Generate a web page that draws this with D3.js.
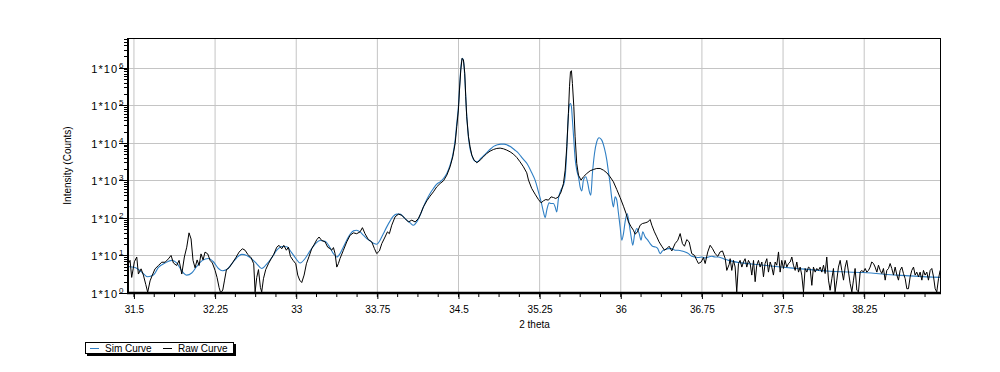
<!DOCTYPE html>
<html>
<head>
<meta charset="utf-8">
<script src="https://cdn.jsdelivr.net/npm/d3@7"></script>
<style>
  body { margin: 0; background: #fff; }
  text { font-family: "Liberation Sans", Arial, sans-serif; fill: #000; }
</style>
</head>
<body>
<script>
// Data (2 theta, counts)
const rawCurve = [
  [31.442,5.5],[31.464,7.4],[31.479,2.6],[31.504,6.8],[31.526,9.1],[31.541,3.2],[31.566,4.4],[31.587,3.0],
  [31.609,1.7],[31.627,1.05],[31.649,2.1],[31.670,3.0],[31.695,4.4],[31.726,5.4],[31.757,6.6],[31.788,6.6],
  [31.818,8.1],[31.843,10],[31.865,6.3],[31.895,5.4],[31.917,7.4],[31.942,3.2],[31.966,9.1],[31.988,16.6],
  [32.009,40],[32.028,27.5],[32.046,7.4],[32.065,4.7],[32.084,7.6],[32.102,5.4],[32.120,11],[32.139,7.6],
  [32.157,12.3],[32.182,11],[32.204,7.4],[32.225,6.3],[32.250,4.0],[32.268,2.6],[32.287,1.4],[32.302,1.0],
  [32.321,1.2],[32.336,2.1],[32.355,4.2],[32.379,4.7],[32.410,6.3],[32.441,8.7],[32.472,12.3],[32.502,15.1],
  [32.527,13.8],[32.552,10.7],[32.583,8.7],[32.607,6.0],[32.620,1.07],[32.635,2.6],[32.651,4.2],[32.669,1.4],
  [32.681,1.07],[32.697,2.4],[32.718,4.2],[32.743,6.0],[32.767,8.1],[32.792,10.7],[32.820,16.6],[32.841,18.6],
  [32.866,15.1],[32.885,18.6],[32.909,13.8],[32.928,16.6],[32.946,9.5],[32.971,7.4],[32.996,6.0],[33.014,3.0],
  [33.032,2.2],[33.051,1.9],[33.073,3.0],[33.094,6.0],[33.119,9.5],[33.143,15.1],[33.168,20],[33.190,26.3],
  [33.211,31],[33.236,25],[33.267,23],[33.291,16.6],
  [33.313,15.2],[33.328,13.8],[33.344,16.2],[33.359,11.2],[33.375,4.9],[33.390,6.1],[33.405,8.3],[33.436,13.8],
  [33.467,23],[33.498,34.6],[33.529,40],[33.559,38],[33.590,42.5],[33.612,55],[33.636,38],[33.667,26.5],
  [33.698,23],[33.723,15.2],[33.744,11.2],[33.769,13.2],[33.791,20.7],[33.821,31],[33.843,42.5],[33.861,38],
  [33.883,64],[33.914,107],[33.945,126],[33.975,118],[34.006,96],[34.037,78],[34.068,87],[34.099,78],
  [34.129,96],[34.151,131],[34.176,197],[34.207,285],[34.237,380],[34.268,495],[34.299,673],[34.330,826],
  [34.361,973],[34.392,1377],[34.422,2296],[34.447,4246],[34.469,9616],[34.484,26800],[34.499,74500],
  [34.509,254700],[34.521,869000],[34.533,1778000],[34.546,1607000],[34.558,708000],[34.567,169000],
  [34.576,49500],[34.592,14500],[34.607,7830],[34.623,4700],[34.644,3460],[34.669,2940],[34.700,3460],
  [34.731,4246],[34.761,5210],[34.792,6010],[34.823,6650],[34.854,7080],[34.885,7230],[34.915,6940],
  [34.946,6400],[34.977,5770],[35.008,5000],[35.039,4070],[35.069,3120],[35.100,2300],[35.131,1590],
  [35.147,1014],[35.177,607],[35.208,429],[35.239,309],[35.264,252],[35.285,285],[35.307,309],[35.331,297],
  [35.356,364],[35.378,349],[35.399,329],[35.424,364],[35.449,495],[35.470,826],[35.486,1871],[35.501,7850],
  [35.516,60700],[35.526,312000],[35.535,785000],[35.544,834000],[35.553,383000],[35.566,91400],
  [35.578,14500],[35.593,2820],[35.609,1377],[35.633,1014],[35.655,1245],[35.686,1525],[35.717,1800],
  [35.747,1950],[35.778,2075],[35.809,2075],[35.840,1871],[35.871,1590],[35.901,1245],[35.932,915],
  [35.963,571],[35.994,349],[36.025,205],[36.049,131],[36.071,78],[36.096,58],[36.117,47],[36.133,36.8],
  [36.154,42.5],[36.179,64],[36.200,70.8],[36.225,73.8],[36.250,78],[36.271,90.6],[36.287,64],[36.311,42.5],
  [36.333,31.3],[36.354,23],[36.379,17.6],[36.404,13.8],[36.425,15.2],[36.447,17.6],[36.472,13.2],
  [36.502,20.7],[36.527,25.4],[36.549,38.3],[36.570,20.7],[36.589,17.6],[36.610,26.5],[36.632,23],
  [36.656,11.2],[36.681,10.1],[36.703,7.4],[36.718,6.1],[36.743,6.7],[36.764,8.8],[36.780,6.1],[36.804,12.4],
  [36.826,18.7],[36.848,15.2],[36.872,11.2],[36.897,9.5],[36.918,12.4],[36.940,13.2],[36.965,8.3],
  [36.980,4.0],[37.002,5.8],
  [37.011,8.2],[37.026,4.0],[37.042,7.4],[37.057,4.9],[37.072,1.07],[37.088,6.1],[37.103,7.4],[37.119,4.9],
  [37.134,6.7],[37.149,8.2],[37.165,4.9],[37.180,7.4],[37.196,6.1],[37.211,3.0],[37.227,7.4],[37.242,2.0],
  [37.257,5.5],[37.273,7.4],[37.288,4.9],[37.304,6.7],[37.319,2.7],[37.334,6.1],[37.350,8.2],[37.365,3.6],
  [37.381,6.7],[37.396,4.9],[37.411,3.0],[37.427,6.7],[37.442,5.5],[37.458,12.4],[37.473,3.6],[37.488,7.4],
  [37.504,4.5],[37.519,7.4],[37.535,4.9],[37.550,6.1],[37.566,6.7],[37.581,9.1],[37.596,5.5],[37.612,4.0],
  [37.627,6.7],[37.643,3.6],[37.658,4.9],[37.673,3.0],[37.689,1.07],[37.704,4.5],[37.720,3.6],[37.735,4.9],
  [37.750,4.5],[37.766,1.6],[37.781,4.9],[37.797,3.6],[37.812,4.5],[37.827,4.0],[37.843,4.9],[37.858,3.6],
  [37.874,5.5],[37.889,3.3],[37.904,9.1],[37.920,2.2],[37.935,1.18],[37.951,2.4],[37.966,4.5],[37.981,1.07],
  [37.997,2.2],[38.012,4.9],[38.028,7.4],[38.043,4.0],[38.059,2.2],[38.074,4.9],[38.089,7.4],[38.105,3.6],
  [38.120,1.8],[38.136,1.07],[38.151,2.2],[38.166,4.5],[38.182,1.18],[38.197,1.07],[38.213,3.6],[38.228,4.0],
  [38.243,3.6],[38.259,4.5],[38.274,3.6],[38.290,4.0],[38.305,4.9],[38.320,6.7],[38.336,6.1],[38.351,4.9],
  [38.367,3.6],[38.382,5.5],[38.398,4.0],[38.413,3.3],[38.428,4.5],[38.444,2.2],[38.459,4.0],[38.475,4.5],
  [38.490,6.1],[38.505,4.5],[38.521,3.0],[38.536,4.9],[38.552,3.0],[38.567,2.2],[38.582,4.0],[38.598,4.9],
  [38.613,3.3],[38.629,2.4],[38.644,1.3],[38.659,1.3],[38.675,2.7],[38.690,4.0],[38.706,4.9],[38.721,3.0],
  [38.736,3.6],[38.752,2.7],[38.767,3.6],[38.783,2.2],[38.798,4.0],[38.813,3.0],[38.829,3.6],[38.844,2.2],
  [38.860,4.0],[38.875,4.5],[38.891,2.7],[38.906,1.3],[38.921,1.07],[38.937,2.4],[38.952,4.0]
];

const simCurve = [
  [31.442,5.1],[31.510,4.8],[31.572,3.6],[31.627,2.7],[31.680,3.0],[31.726,4.8],[31.788,6.3],[31.849,7.4],
  [31.895,6.3],[31.942,3.9],[31.988,3.0],[32.034,3.4],[32.080,5.1],[32.133,7.4],[32.188,8.3],[32.234,6.8],
  [32.281,4.5],[32.318,3.9],[32.358,4.2],[32.404,6.0],[32.450,8.7],[32.496,10.7],[32.543,10],[32.589,8.1],
  [32.635,6.0],[32.681,4.5],[32.727,5.9],[32.774,8.7],[32.820,13.8],[32.866,17.4],[32.912,17],[32.959,11.7],
  [32.996,8.3],[33.036,6.3],[33.082,8.3],[33.128,13.2],[33.174,20],[33.220,25],[33.267,24],
  [33.313,16],[33.344,11.2],[33.375,9.1],[33.405,11.2],[33.436,16.9],[33.467,25.5],[33.498,36.8],
  [33.529,45.2],[33.559,47],[33.590,42.5],[33.621,34.6],[33.652,28.2],[33.683,24.4],[33.720,20.7],
  [33.744,19.9],[33.775,25.5],[33.806,38.3],[33.837,57.7],[33.868,83.4],[33.898,111],[33.929,126],
  [33.960,126],[33.991,107],[34.022,86.9],[34.053,73.8],[34.083,64],[34.114,78.4],[34.145,118],[34.176,197],
  [34.207,309],[34.237,447],[34.268,607],[34.299,793],[34.330,915],[34.361,1122],[34.392,1525],[34.422,2547],
  [34.447,4700],[34.469,11800],[34.484,32900],[34.499,91400],[34.512,383000],[34.524,1180000],
  [34.536,1778000],[34.549,1309000],[34.561,383000],[34.573,74500],[34.586,21800],[34.601,8690],
  [34.623,4700],[34.647,3320],[34.675,3120],[34.706,3830],[34.737,4700],[34.768,5770],[34.798,6940],
  [34.829,8170],[34.860,8870],[34.891,9250],[34.922,9250],[34.952,8690],[34.983,7850],[35.014,6650],
  [35.045,5650],[35.076,4430],[35.106,3460],[35.137,2700],
  [35.177,1590],[35.208,1014],[35.239,495],[35.264,268],[35.285,145],[35.301,102],[35.316,161],[35.338,252],
  [35.356,242],[35.378,242],[35.393,197],[35.408,145],[35.424,329],[35.449,571],[35.470,745],[35.486,1245],
  [35.498,4246],[35.510,26800],[35.522,91400],[35.535,112000],[35.544,91400],[35.553,40400],[35.566,11800],
  [35.578,3830],[35.593,1871],[35.609,1245],[35.624,673],[35.640,526],[35.655,1014],[35.677,1245],
  [35.695,826],[35.710,495],[35.723,404],[35.738,1525],[35.757,5210],[35.778,10670],[35.800,13650],
  [35.824,11800],[35.849,7080],[35.871,3460],[35.886,1690],[35.901,826],[35.917,329],[35.932,197],
  [35.948,364],[35.963,297],[35.979,131],[35.994,57.7],[36.009,25.5],[36.025,38.3],[36.040,78.4],
  [36.059,131],[36.077,70.8],[36.096,31.3],[36.111,18.7],[36.127,34.6],[36.148,52.1],[36.170,38.3],
  [36.188,25.5],[36.203,42.5],[36.225,31.3],[36.250,25.5],[36.271,20.7],[36.293,17.6],[36.318,16.9],
  [36.342,15.2],[36.364,11.2],[36.385,13.2],[36.410,14.4],[36.441,15.2],[36.472,15.2],[36.502,13.8],
  [36.533,13.8],[36.564,13.2],[36.595,12.4],[36.626,11.2],[36.656,9.5],[36.687,9.1],[36.718,8.8],
  [36.749,9.1],[36.780,8.6],[36.810,9.1],[36.841,9.5],[36.872,9.1],[36.903,9.1],[36.934,8.6],[36.965,7.9],
  [36.996,7.4],[37.319,5.5],[37.627,4.5],[37.935,3.8],[38.243,3.5],[38.552,3.0],[38.952,2.6]
];

const xTickValues = [31.5, 32.25, 33, 33.75, 34.5, 35.25, 36, 36.75, 37.5, 38.25];
const yExponents = [0, 1, 2, 3, 4, 5, 6];
const seriesNames = ['Sim Curve', 'Raw Curve'];
const seriesColors = ['#2f7fc4', '#000000'];

// Layout
const width = 1000;
const height = 372;
const plot = { left: 128, right: 941, top: 38, bottom: 293 };

const svg = d3.select('body')
.append('svg')
.attr('width', width)
.attr('height', height);

const xScale = d3.scaleLinear()
.domain([31.445, 38.96])
.range([plot.left, plot.right]);

const yScale = d3.scaleLog()
.domain([1, 6.2e6])
.range([plot.bottom, plot.top]);

// Grid
svg.append('g')
.selectAll('line')
.data(xTickValues)
.enter()
.append('line')
.attr('x1', d => xScale(d))
.attr('x2', d => xScale(d))
.attr('y1', plot.top)
.attr('y2', plot.bottom)
.attr('stroke', '#c4c4c4')
.attr('stroke-width', 1);

svg.append('g')
.selectAll('line')
.data(yExponents.slice(1))
.enter()
.append('line')
.attr('x1', plot.left)
.attr('x2', plot.right)
.attr('y1', d => Math.round(yScale(Math.pow(10, d))) + 0.5)
.attr('y2', d => Math.round(yScale(Math.pow(10, d))) + 0.5)
.attr('stroke', '#c4c4c4')
.attr('stroke-width', 1);

// Curves
svg.append('clipPath')
.attr('id', 'plot-clip')
.append('rect')
.attr('x', plot.left)
.attr('y', plot.top)
.attr('width', plot.right - plot.left)
.attr('height', plot.bottom - plot.top);

const rawLine = d3.line()
.x(d => xScale(d[0]))
.y(d => yScale(Math.max(d[1], 1)));

const simLine = d3.line()
.curve(d3.curveMonotoneX)
.x(d => xScale(d[0]))
.y(d => yScale(d[1]));

svg.append('path')
.datum(simCurve)
.attr('clip-path', 'url(#plot-clip)')
.attr('fill', 'none')
.attr('stroke', seriesColors[0])
.attr('stroke-width', 1.1)
.attr('d', simLine);

svg.append('path')
.datum(rawCurve)
.attr('clip-path', 'url(#plot-clip)')
.attr('fill', 'none')
.attr('stroke', seriesColors[1])
.attr('stroke-width', 1)
.attr('d', rawLine);

// Frame
svg.append('rect')
.attr('x', plot.left + 0.5)
.attr('y', plot.top + 0.5)
.attr('width', plot.right - plot.left - 1)
.attr('height', plot.bottom - plot.top - 1)
.attr('fill', 'none')
.attr('stroke', '#000')
.attr('stroke-width', 1);

// X axis
const xAxis = d3.axisBottom(xScale)
.tickValues(xTickValues)
.tickSize(6)
.tickFormat(d => d);

const gx = svg.append('g')
.attr('transform', `translate(0,${plot.bottom})`)
.call(xAxis);

gx.select('.domain').remove();
gx.selectAll('text')
.attr('font-size', '10px')
.attr('font-family', '"Liberation Sans", Arial, sans-serif')
.attr('dy', '1.05em');

svg.append('g')
.selectAll('line')
.data(d3.range(31.5, 38.96, 0.1875))
.enter()
.append('line')
.attr('x1', d => xScale(d))
.attr('x2', d => xScale(d))
.attr('y1', plot.bottom)
.attr('y2', plot.bottom + 4)
.attr('stroke', '#000');

svg.append('line')
.attr('x1', plot.left - 1)
.attr('x2', plot.right)
.attr('y1', plot.bottom)
.attr('y2', plot.bottom)
.attr('stroke', '#000')
.attr('stroke-width', 2.5);

// Y axis
svg.append('line')
.attr('x1', plot.left)
.attr('x2', plot.left)
.attr('y1', plot.top)
.attr('y2', plot.bottom)
.attr('stroke', '#000')
.attr('stroke-width', 2);

const minorY = [];
yExponents.forEach(e => {
  d3.range(2, 10).forEach(m => {
    const v = m * Math.pow(10, e);
    if (v < 6.2e6) minorY.push(v);
  });
});

svg.append('g')
.selectAll('line')
.data(minorY)
.enter()
.append('line')
.attr('x1', plot.left - 4)
.attr('x2', plot.left)
.attr('y1', d => Math.round(yScale(d)) + 0.5)
.attr('y2', d => Math.round(yScale(d)) + 0.5)
.attr('stroke', '#000');

const yTicks = svg.append('g')
.selectAll('g')
.data(yExponents)
.enter()
.append('g')
.attr('transform', d => `translate(0,${Math.round(yScale(Math.pow(10, d))) + 0.5})`);

yTicks.append('line')
.attr('x1', plot.left - 9)
.attr('x2', plot.left)
.attr('stroke', '#000');

yTicks.append('text')
.attr('x', 118)
.attr('y', 4)
.attr('text-anchor', 'end')
.attr('font-size', '11px')
.attr('letter-spacing', '1px')
.text('1*10');

yTicks.append('text')
.attr('x', 119)
.attr('y', -1)
.attr('font-size', '8px')
.text(d => d);

// Axis titles
svg.append('text')
.attr('transform', `translate(71,${(plot.top + plot.bottom) / 2}) rotate(-90)`)
.attr('text-anchor', 'middle')
.attr('font-size', '10px')
.text('Intensity (Counts)');

svg.append('text')
.attr('x', (plot.left + plot.right) / 2)
.attr('y', 328)
.attr('text-anchor', 'middle')
.attr('font-size', '10px')
.text('2 theta');

// Legend
const legend = svg.append('g');

legend.append('rect')
.attr('x', 87)
.attr('y', 344)
.attr('width', 149)
.attr('height', 12)
.attr('fill', '#000');

legend.append('rect')
.attr('x', 85.5)
.attr('y', 342.5)
.attr('width', 148)
.attr('height', 11)
.attr('fill', '#fff')
.attr('stroke', '#000');

const legendX = [90, 163];
const items = legend.selectAll('g.item')
.data(seriesNames)
.enter()
.append('g')
.attr('class', 'item')
.attr('transform', (d, i) => `translate(${legendX[i]},348.5)`);

items.append('line')
.attr('x1', 0)
.attr('x2', 9)
.attr('stroke', (d, i) => seriesColors[i]);

items.append('text')
.attr('x', 15)
.attr('y', 3.5)
.attr('font-size', '10px')
.text(d => d);
</script>
</body>
</html>
